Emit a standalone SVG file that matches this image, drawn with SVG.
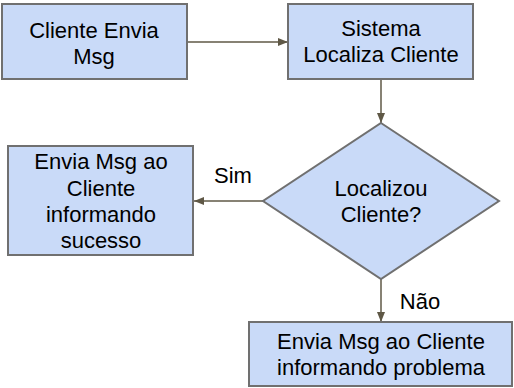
<svg xmlns="http://www.w3.org/2000/svg" width="514" height="388" viewBox="0 0 514 388">
<style>
.n{fill:#c9daf8;stroke:#707070;stroke-width:2}
.t{font-family:"Liberation Sans",Arial,sans-serif;font-size:22px;fill:#000;text-anchor:middle}
.c{stroke:#5f5846;stroke-width:1.5;fill:none;marker-end:url(#ah)}
</style>
<defs>
<marker id="ah" markerWidth="10" markerHeight="8" refX="10" refY="4" orient="auto" markerUnits="userSpaceOnUse">
<path d="M0,0 L10,4 L0,8 Z" fill="#5f5846"/>
</marker>
</defs>
<rect width="514" height="388" fill="#fff"/>
<g id="connectors">
<line class="c" x1="188" y1="42" x2="288" y2="42"/>
<line class="c" x1="381" y1="80" x2="381" y2="123"/>
<line class="c" x1="263" y1="201" x2="194" y2="201"/>
<line class="c" x1="381" y1="279" x2="381" y2="322"/>
<text class="t" x="233" y="183">Sim</text>
<text class="t" x="420" y="309">Não</text>
</g>
<g id="n1">
<rect class="n" x="2" y="4" width="185" height="75"/>
<text class="t" x="94" y="38">Cliente Envia</text>
<text class="t" x="94" y="64">Msg</text>
</g>
<g id="n2">
<rect class="n" x="288" y="4" width="185" height="75"/>
<text class="t" x="381" y="36">Sistema</text>
<text class="t" x="381" y="62">Localiza Cliente</text>
</g>
<g id="n3">
<polygon class="n" points="381,123 499,201 381,279 263,201"/>
<text class="t" x="381" y="196">Localizou</text>
<text class="t" x="381" y="222">Cliente?</text>
</g>
<g id="n4">
<rect class="n" x="8" y="146" width="185" height="109"/>
<text class="t" x="101" y="169">Envia Msg ao</text>
<text class="t" x="101" y="196">Cliente</text>
<text class="t" x="101" y="222">informando</text>
<text class="t" x="101" y="248">sucesso</text>
</g>
<g id="n5">
<rect class="n" x="249" y="322" width="263" height="64"/>
<text class="t" x="381" y="349">Envia Msg ao Cliente</text>
<text class="t" x="381" y="375">informando problema</text>
</g>
</svg>
